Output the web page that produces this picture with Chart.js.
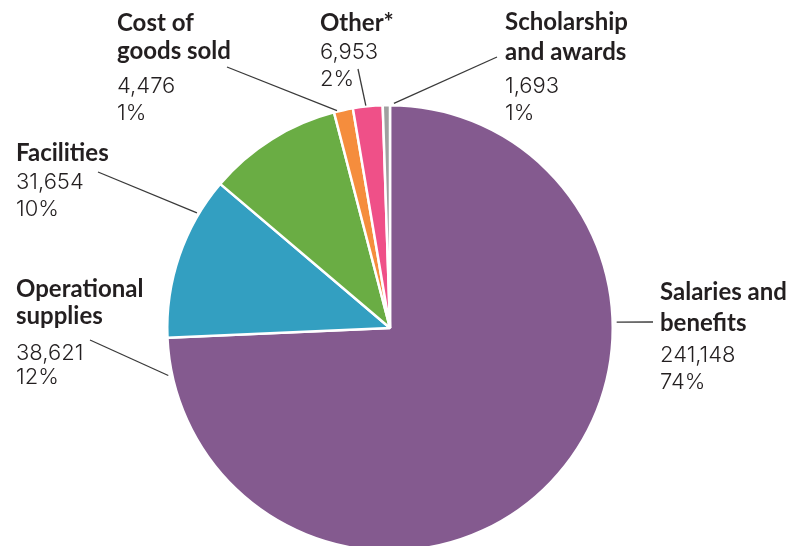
<!DOCTYPE html>
<html>
<head>
<meta charset="utf-8">
<script src="https://cdn.jsdelivr.net/npm/chart.js@4.4.1/dist/chart.umd.min.js"></script>
<style>
  html, body { margin: 0; padding: 0; background: #ffffff; overflow: hidden; width: 809px; height: 546px; }
  #wrap { position: absolute; left: 0; top: 0; width: 809px; height: 560px; }
</style>
</head>
<body>
<div id="wrap"><canvas id="c" width="809" height="560"></canvas></div>
<script>
// ---- data ----
const categories = [
  ['Salaries and', 'benefits'],
  ['Operational', 'supplies'],
  ['Facilities'],
  ['Cost of', 'goods sold'],
  ['Other*'],
  ['Scholarship', 'and awards']
];
const amounts = [241148, 38621, 31654, 4476, 6953, 1693];
const colors = ['#845A8F', '#339FC1', '#6AAD44', '#F58D3D', '#EF5088', '#A0A0A0'];

// ---- label layout (text position, leader line) ----
const labelLayout = [
  { x: 660, lines: [300, 331, 362, 389], from: [653, 322], angle: 88.5, off: 4 },
  { x: 16,  lines: [297, 324, 360, 384], from: [90, 340],  angle: 257.9, off: 4 },
  { x: 16,  lines: [161, 189, 216],      from: [98, 172],  angle: 300.8, off: 2 },
  { x: 117, lines: [31, 59, 93, 120],    from: [227, 67],  angle: 346.3, off: 1 },
  { x: 320, lines: [31, 59, 86],         from: [358, 69],  angle: 353.8, off: 1 },
  { x: 505, lines: [30, 60, 93, 120],    from: [497, 57],  angle: 1.0,   off: 2 }
];

const total = amounts.reduce((a, b) => a + b, 0);

const labelPlugin = {
  id: 'pieLabels',
  afterDatasetsDraw(chart) {
    const ctx = chart.ctx;
    const meta = chart.getDatasetMeta(0);
    const arc0 = meta.data[0];
    const cx = arc0.x, cy = arc0.y, R = arc0.outerRadius;
    ctx.save();
    labelLayout.forEach((L, i) => {
      const a = L.angle * Math.PI / 180;
      const ex = cx + (R + L.off) * Math.sin(a);
      const ey = cy - (R + L.off) * Math.cos(a);
      ctx.beginPath();
      ctx.strokeStyle = '#3a3a3a';
      ctx.lineWidth = 1.3;
      ctx.moveTo(L.from[0], L.from[1]);
      ctx.lineTo(ex, ey);
      ctx.stroke();
      ctx.fillStyle = '#231F20';
      ctx.textAlign = 'left';
      ctx.textBaseline = 'alphabetic';
      const names = categories[i];
      let k = 0;
      ctx.font = 'bold 24px Lato, "Open Sans", sans-serif';
      names.forEach(n => { ctx.fillText(n, L.x, L.lines[k++]); });
      ctx.font = '300 22px Inter, Lato, sans-serif';
      ctx.fillText(amounts[i].toLocaleString('en-US'), L.x, L.lines[k++]);
      ctx.fillText(Math.round(amounts[i] / total * 100) + '%', L.x, L.lines[k++]);
    });
    ctx.restore();
  }
};

new Chart(document.getElementById('c'), {
  type: 'pie',
  data: {
    labels: categories.map(c => c.join(' ')),
    datasets: [{
      data: amounts,
      backgroundColor: colors,
      borderColor: '#ffffff',
      borderWidth: 2.5
    }]
  },
  options: {
    responsive: false,
    animation: false,
    devicePixelRatio: 1,
    layout: { padding: { left: 166, right: 195, top: 104, bottom: 8 } },
    plugins: { legend: { display: false }, tooltip: { enabled: false } }
  },
  plugins: [labelPlugin]
});
</script>
</body>
</html>
